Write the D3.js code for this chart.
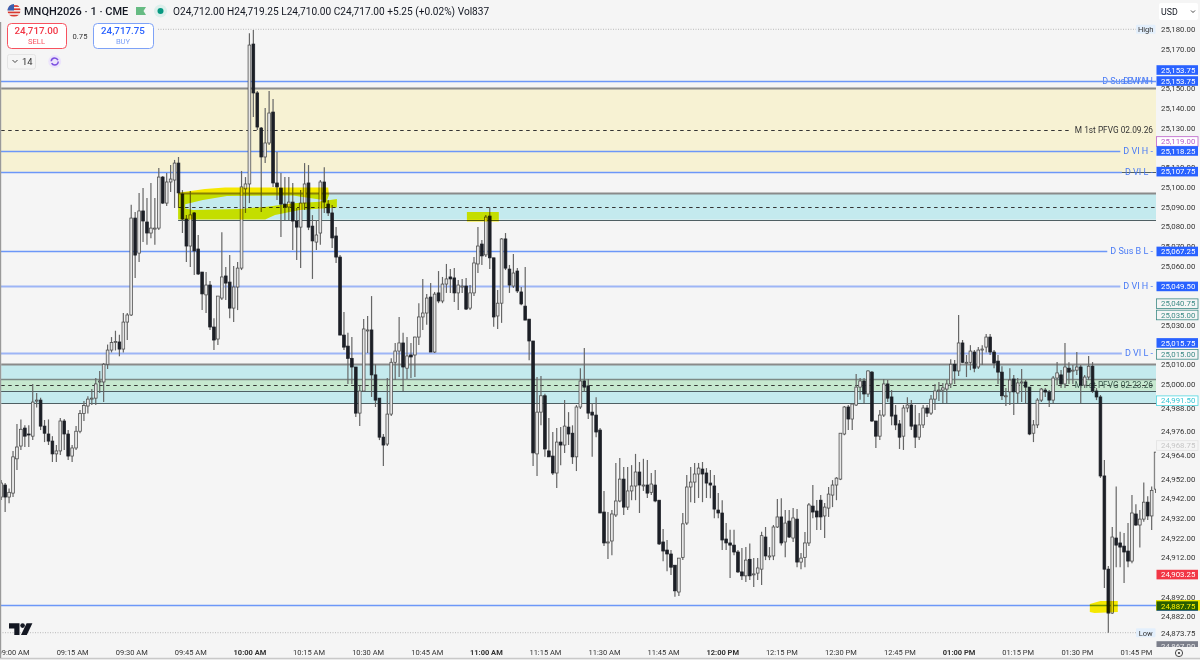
<!DOCTYPE html>
<html>
<head>
<meta charset="utf-8">
<script src="https://cdn.jsdelivr.net/npm/d3@7/dist/d3.min.js"></script>
<style>
html, body { margin: 0; padding: 0; background: #f5f5f5; overflow: hidden; }
svg { display: block; font-family: Roboto, "Liberation Sans", sans-serif; }
</style>
</head>
<body>
<svg width="1200" height="660"></svg>
<script>
// one minute bars, first bar is 08:57
let firstMinute = -3

let opens = [
24942.6,24948.7,24942.6,24944.6,24962,24968.5,24977.6,24974.6,24973.5,24991.8,
24991.8,24978.6,24974.6,24971,24964.5,24966,24981.2,24974.6,24963.4,24967.5,
24976,24985,24988.8,24992.8,24992.8,25001,25001,25010,25017.2,25021.3,
25021.3,25017.7,25031.4,25035,25084.2,25066.4,25087.8,25082.2,25076.6,25079,
25079.1,25105,25091.8,25102.5,25103.5,25112.1,25096.4,25083.7,25070,25086.8,
25068.5,25056.8,25045.2,25050.2,25028.9,25022.8,25043.6,25054.8,25051.7,25038.5,
25049.2,25058.8,25099,25101.5,25172.5,25147.7,25129.9,25115.2,25122.3,25138,
25102,25099.4,25091.3,25089.8,25092.3,25082.7,25079.6,25091.8,25102,25080.1,
25072,25076.6,25102.5,25091.3,25086.8,25075.1,25064.4,25024.8,25019.2,25013,
25008.6,24985.2,24996.4,25027.4,25027.4,25004.6,24992.8,24973,24969.5,24984.7,
25011,25016.7,25020.8,25008,25014.7,25014.7,25023.8,25034,25036,25044.1,
25016.2,25046.2,25042.1,25050.7,25054.3,25053.8,25046.2,25049.7,25049.7,25038.5,
25046.2,25060.9,25071,25065.5,25085.2,25064,25034.5,25041,25073.6,25058.3,
25049.7,25057.3,25046.7,25039.5,25032.9,25021.8,24964.5,24985.7,24994,24966,
24963.4,24954.8,24970.5,24969,24978.1,24975,24963,24988.3,25001.5,24999,
24985.7,24984.2,24976.6,24935,24919.3,24920.3,24933.5,24940.6,24951.7,24937.5,
24945.7,24948.2,24955.3,24948.7,24948.7,24945,24948.7,24941,24919.8,24915.7,
24913.7,24908,24894.4,24912,24929.4,24947.7,24950.2,24954.3,24956.8,24954.8,
24949.7,24948.2,24936,24934.5,24921.3,24919.3,24918.2,24914.7,24904.6,24902.6,
24911,24903.6,24904,24906,24922.3,24912.7,24912.7,24927.4,24932.5,24919.8,
24930.4,24921.8,24931.4,24909.6,24912,24919.3,24938,24935.5,24941,24933,
24937,24943.6,24948.7,24951.7,24974.6,24988.3,24982.2,24989.3,24998.4,25001.5,
24994.9,25006,24981.2,24973.5,24984.2,25000,24993.4,24984.2,24979.7,24973.5,
24987.8,24989.3,24979.2,24973,24979.2,24987.8,24985.2,24992.3,24996.9,24996.9,
24997.4,25000,25010,25006.6,25020.8,25011,25011,25016.2,25008.6,25017.7,
25018.7,25023.8,25016.2,25011.6,25006,24994,24996,25002.5,24995.4,25001,
25001,24998.4,24975,24979.2,24991.8,24996.9,24995.9,24991.8,25003,25004.6,
25000,25008,25007,25007,25008.6,24999.4,25003.5,25009,24996.4,24993.4,
24953.3,24906,24883.7,24921.8,24919.3,24917.7,24915.2,24910.1,24934,24928.4,
24931.4,24940,24933,24946.6
]
let highs = [
24951.2,24949.7,24947,24966,24979.7,24982,24979,24979,25000,24995.4,
24993,24981.7,24982,24973.5,24969,24982.7,24982.2,24976.6,24969,24978.6,
24986.8,24991.3,24993.8,24997.4,25003,25006.6,25010.6,25020,25023.8,25027,
25025,25036,25036,25091,25087.3,25096.9,25099.4,25094.4,25102,25094.4,
25109.6,25105.5,25107.1,25111.1,25113.7,25115.2,25098.4,25085.8,25097.9,25087.3,
25075.6,25056.8,25056.8,25052.3,25033.4,25044.6,25077,25059.3,25065.4,25059.9,
25061.9,25108.1,25105,25178,25179.6,25148.7,25130.4,25140,25148.7,25144.6,
25117.7,25107.1,25105,25105,25102,25089.3,25098.4,25112.1,25111.1,25085.7,
25083.2,25103.5,25110,25093.4,25090.8,25079.6,25065.4,25036.5,25026,25023.8,
25008.6,24999.4,25033,25034.5,25044.6,25010,24992.8,24974.6,25003,25013,
25020.8,25034,25026,25023.8,25020.8,25024,25041,25053.3,25045.6,25051.2,
25046.7,25057.3,25054.3,25060.9,25058.3,25058.8,25052.8,25053.3,25053.8,25050.2,
25064.4,25079.6,25073.1,25085.7,25089.8,25064,25047.7,25074,25076.6,25060.4,
25066,25058.8,25049.2,25059.3,25032.9,25021.8,25003.5,25004,24995,24982.7,
24975.6,24977.6,24978.1,24991.8,24985.7,24979,24989.3,25008,25018.2,25002.5,
24990.3,24993.3,24977.6,24945.7,24935,24936,24959.9,24962.4,24957.8,24957.8,
24958.8,24964.5,24960.4,24962,24961.4,24954.8,24956.3,24941,24926.4,24920.8,
24915.7,24908,24911.6,24934.5,24953.8,24957.8,24959.9,24959.9,24960.4,24957.3,
24956.3,24953.8,24944.6,24941,24929.4,24926,24926,24915.7,24916.7,24917.2,
24919,24911.6,24911.6,24925,24927.4,24917.2,24928.4,24941.6,24942,24936,
24936,24937,24936.5,24914.2,24924.9,24939.6,24948.7,24941.1,24943.6,24939.6,
24947.7,24951.2,24952.7,24975,24988.8,24989.3,24990.3,25005,25003,25003,
25007,25006.6,24981.2,24986.8,25002.5,25002,24996.9,24989.3,24981.7,24989.3,
24993.3,24991.8,24989.3,24985.2,24989.3,24989.3,24994.4,25000,25001,25000.5,
25002,25012.6,25012.1,25035,25022.3,25014.7,25019.7,25017.2,25018.7,25019.7,
25025.3,25025.3,25017.2,25014.7,25009,24997.9,25008,25004.6,25003,25007.6,
25002,24998.4,24981.7,24992.8,24997.9,24997.9,24996.9,25004,25011.1,25007.1,
25020.8,25011,25009.6,25016.2,25009.6,25004.6,25014.2,25011.1,24997.9,24994.4,
24961.4,24907.6,24927.4,24948,24925,24924.3,24929.4,24943.6,24939,24936,
24950,24943,24948,24965.4
]
let lows = [
24941.1,24935,24939.5,24942.6,24956.3,24966.5,24968,24968,24971.5,24988,
24976.6,24970.5,24969,24960.4,24960.4,24963.9,24966.5,24961.4,24960.4,24966.5,
24975,24981.2,24985,24989.3,24989.3,24995.4,24990.8,25007.6,25016,25017,
25014,25016,25022.3,25034.5,25053.8,25061.9,25072,25070.6,25074,25070.6,
25078.1,25091.3,25090.3,25097.4,25089.3,25089.3,25076.6,25061.9,25059.4,25055.3,
25055.3,25037.5,25036,25027.4,25017.2,25019.8,25042.6,25042.6,25033.4,25031.4,
25037.5,25057.8,25086.8,25091.8,25135.5,25128.9,25087.3,25112.1,25121.3,25100,
25093.4,25074.6,25083.2,25083.2,25068,25062.9,25058.8,25088.3,25078.1,25053.3,
25068,25070.6,25086.8,25085.2,25069,25061.4,25024.8,25017.2,25000,25000,
24983.2,24978.6,24996,25015.7,24993.4,24988.3,24971.5,24958.3,24968.5,24983.7,
25002,25003.5,24996.4,25002.5,25003,25003.5,25019.8,25027.4,25030,25016.2,
25015.7,25041,25041,25046.2,25046.2,25041.6,25037.5,25046.2,25037.5,25037.5,
25044.6,25056.3,25060.4,25064.4,25058.3,25029,25027.9,25031,25057.8,25046.2,
25048.7,25046.2,25040,25032.4,25012,24958.3,24953.3,24979,24963,24963,
24953.8,24947.2,24958.8,24965,24969,24959.4,24955.8,24987.3,24995.9,24982.2,
24963,24973,24934.5,24917.7,24911.1,24913,24932.5,24940,24933.5,24936,
24941,24941,24934.5,24945.7,24942.1,24943.6,24940,24918.2,24910,24905,
24903,24892,24892.4,24910.6,24928.4,24940,24939.6,24942.1,24940,24942.1,
24942,24931.9,24931.9,24915.7,24915.7,24901.5,24913,24904,24900.5,24899.5,
24900.5,24897,24900.5,24897.9,24910.6,24910.6,24910.6,24926.9,24918,24912,
24921.8,24919.8,24907,24906,24907,24917.7,24931.9,24925.9,24925.9,24921.8,
24932.5,24937.5,24941,24951.2,24974,24976.6,24976.6,24988.8,24992,24990.3,
24993.4,24980.7,24967.5,24971.5,24983.2,24990.8,24979,24976.6,24967,24966.5,
24985.7,24976.6,24967.5,24971.5,24977.6,24983.2,24984.2,24986.8,24991.3,24990.3,
24990.3,24998,25000,25004,25010.6,25003.5,25007,25006,25007.6,25009.6,
25016,25014.7,25008,25000,24991.8,24988.8,24989.3,24984.2,24990.3,24990.8,
24990.3,24974,24970.5,24977.6,24990.8,24993.4,24988.3,24990.3,24999.4,24998,
24998,25000,25000,25004.6,24990.3,24997.9,25002,24995.4,24991.8,24952.3,
24896.4,24873.75,24883.2,24907,24907,24899,24907,24909,24927.9,24917,
24930,24930.9,24925.9,24944.6
]
let closes = [
24949.7,24942.6,24945,24963,24968,24977,24973.5,24974.5,24990.8,24991.8,
24978.6,24975,24971,24964.5,24966,24981.2,24974.6,24963.4,24967.5,24976,
24985,24989,24992.3,24992.8,25000,25001.5,25010,25017.2,25021,25021.5,
25017.7,25031.4,25035,25084.2,25065.4,25087.8,25082.7,25076.6,25079.1,25079.1,
25105,25091.8,25102.5,25104,25112.1,25097,25083.7,25070,25085.8,25067.5,
25055.8,25045.7,25050.2,25028.9,25022.3,25044.6,25054.3,25051.2,25038.5,25049.2,
25058.8,25100,25101.5,25172,25147.7,25130.4,25115.2,25122.3,25137.5,25102,
25100,25091.3,25089.8,25092.3,25082.7,25079.6,25091.8,25101.5,25079.6,25072.6,
25075.6,25102.5,25092.3,25086.8,25074.1,25064.4,25024.8,25018.7,25013,25008.6,
24985.2,24996.4,25027.9,25027.4,25004.6,24991.8,24973,24969,24984.7,25011,
25016.7,25020.8,25008.6,25014.2,25013.7,25023.8,25034,25036,25043.6,25016.2,
25045.6,25042.1,25050.7,25053.3,25053.3,25046.2,25050.2,25049.7,25038,25046.2,
25061.4,25070,25065,25084.7,25064,25034,25041,25073.6,25058.8,25050.2,
25056.3,25047.2,25040.6,25032.4,25021.8,24965,24985.7,24994,24967,24963,
24954.8,24970.5,24969,24978.6,24974.6,24963,24988.3,25001.5,24998.4,24985.2,
24984.2,24975.6,24934.5,24919.3,24919.8,24934,24940.6,24951.7,24937.5,24945.7,
24948.2,24955.3,24948.7,24948.7,24944.6,24949.2,24940.6,24918.8,24915.2,24913.7,
24907,24895,24911.6,24929,24947.7,24950.2,24954.3,24957.3,24954.3,24949.7,
24948.7,24936.5,24934.5,24920.8,24919.3,24918.2,24914.7,24904.6,24902.6,24910.6,
24902.6,24903.6,24906.6,24923,24912.7,24912.7,24927.4,24932.5,24919.3,24929.4,
24922.3,24932,24909.6,24911.6,24919.3,24938.6,24935,24932.5,24932.5,24937.5,
24944.1,24948.7,24952.2,24975,24988.3,24982.2,24989.8,24998.4,25001.5,24994.9,
25006.6,24981.2,24973.5,24984.2,25000,24992.8,24983.7,24979.2,24973,24987.8,
24989.3,24978.6,24973,24979.2,24987.8,24985.2,24992.3,24996.4,24996.9,24998,
25000,25010,25006.6,25020.8,25011,25011,25016.7,25008,25017.2,25017.7,
25023.8,25016.2,25010.6,25006,24994,24994,25002,24996,25000.5,25001,
24998.4,24974.6,24979.2,24991.8,24997.4,24995.9,24991.8,25003,25005.6,25000,
25008.6,25006,25007,25008.6,24999.4,25003.5,25009,24996.4,24993.4,24953.3,
24906,24883.7,24922.3,24918.2,24917.2,24914.7,24910.1,24934.5,24928.4,24931.4,
24940,24933,24946,24965.4
]

let priceTicks = [25180,25170,25150,25140,25130,25110,25100,25090,25080,25070,25060,25030,25010,25000,24988,24976,24964,24952,24942,24932,24922,24912,24892,24882]
let timeTicks = [0,15,30,45,60,75,90,105,120,135,150,165,180,195,210,225,240,255,270,285]
let timeLabels = ['09:00 AM','09:15 AM','09:30 AM','09:45 AM','10:00 AM','10:15 AM','10:30 AM','10:45 AM','11:00 AM','11:15 AM','11:30 AM','11:45 AM','12:00 PM','12:15 PM','12:30 PM','12:45 PM','01:00 PM','01:15 PM','01:30 PM','01:45 PM']
let boldTimes = ['10:00 AM','11:00 AM','12:00 PM','01:00 PM']

// horizontal levels and their labels on the right
let levelPrices = [25153.75,25118.25,25067.25,25049.5,25015.75,25107.75]
let levelNames = ['D Sus B VAH','D VI H -','D Sus B L -','D VI H -','D VI L -','D VI L -']
let targetPrice = 24887.75

// zones: premium box, upper fvg, lower fvg
let zoneTops = [25150,25096.9,25009.9]
let zoneBottoms = [25107.75,25083.4,24990.3]
let zoneStarts = [-3,41.9,-3]
let zoneMids = [25129,25090,24999.7]
let bandTop = 25002.5
let bandBottom = 24996.6

// scale tags
let tagPrices = [25153.75,25153.75,25119,25118.25,25107.75,25067.25,25049.5,25040.75,25035,25015.75,25015,24991.5,24968.75,24903.25,24887.75,24873.75,24867]
let tagKinds = ['blue','blue','purple','blue','blue','blue','blue','teal','teal','blue','teal','cyan','faded','red','blue','plain','gray']
let tagNudge = [-11,0,-8,0,0,0,0,0,0,-10,0,0,0,0,1,0,0]

// highlighter strokes, [minute, price]
let brushOuter = [[41.9,25097.1],[48.7,25099],[53.8,25099.7],[80,25099.7],[80.2,25095.9],[79.7,25093.1],[82.2,25093.9],[82.2,25089.5],[72.8,25088.3],[66.5,25085.7],[64,25083.5],[41.9,25083.5]]
let brushHole = [[43.7,25089.1],[43.7,25091.2],[48.2,25093.4],[54.3,25095.4],[71,25095.7],[78.7,25093.4],[77.9,25092.5],[71,25091.7],[64.5,25090],[57.6,25088.8],[45.7,25088.3]]
let brushMid = [[115.2,25087.3],[123.3,25087.3],[123.3,25082.4],[115.2,25082.4]]
let brushLow = [[273.3,24888.3],[276,24889.8],[280.4,24889.8],[280.4,24884.2],[274.5,24883.7],[273.3,24884.2]]

let plotRight = 1156
let svg = d3.select('svg')

let xScale = d3.scaleLinear().domain([-3,290]).range([1.2,1155.6])
let yScale = d3.scaleLinear().domain([24873.75,25180]).range([632.7,29.3])
let snap = (price) => Math.round(yScale(price)) + 0.5

let defs = svg.append('defs')
defs.append('clipPath').attr('id','plot').append('rect')
    .attr('x',0).attr('y',22).attr('width',plotRight).attr('height',618)
defs.append('clipPath').attr('id','flag').append('circle')
    .attr('cx',14).attr('cy',10.5).attr('r',6.5)
defs.append('clipPath').attr('id','axisclip').append('rect')
    .attr('x',1156).attr('y',22).attr('width',44).attr('height',625)

svg.append('rect').attr('width',1200).attr('height',660).attr('fill','#f5f5f5')

let plot = svg.append('g').attr('clip-path','url(#plot)')

let drawZones = () => {
    zoneTops.forEach((top, i) => {
        let x0 = xScale(zoneStarts[i])
        plot.append('rect')
            .attr('x',x0).attr('y',yScale(top))
            .attr('width',plotRight-x0)
            .attr('height',yScale(zoneBottoms[i])-yScale(top))
            .attr('fill', i == 0 ? '#f7f2d3' : '#c4eaee')
        plot.append('line')
            .attr('x1',x0).attr('x2',plotRight)
            .attr('y1',snap(top)).attr('y2',snap(top))
            .attr('stroke','#8a8a8a').attr('stroke-width',1.8)
        plot.append('line')
            .attr('x1',x0).attr('x2',plotRight)
            .attr('y1',snap(zoneBottoms[i])).attr('y2',snap(zoneBottoms[i]))
            .attr('stroke','#4f5f63').attr('stroke-width',1.1)
    })

    plot.append('rect')
        .attr('x',0).attr('y',yScale(bandTop))
        .attr('width',plotRight).attr('height',yScale(bandBottom)-yScale(bandTop))
        .attr('fill','#c6e8cf')
    plot.append('line').attr('x1',0).attr('x2',plotRight)
        .attr('y1',snap(bandTop)).attr('y2',snap(bandTop))
        .attr('stroke','#7d8a86').attr('stroke-width',1.5)
    plot.append('line').attr('x1',0).attr('x2',plotRight)
        .attr('y1',snap(bandBottom)).attr('y2',snap(bandBottom))
        .attr('stroke','#4f5f63').attr('stroke-width',1)

    // dashed midlines
    let dashEnds = [1072,plotRight,plotRight]
    zoneMids.forEach((mid, i) => {
        plot.append('line')
            .attr('x1',xScale(zoneStarts[i])).attr('x2',dashEnds[i])
            .attr('y1',snap(mid)).attr('y2',snap(mid))
            .attr('stroke','#333').attr('stroke-width',1)
            .attr('stroke-dasharray','3.5 3.5')
    })
    plot.append('text').attr('x',1153).attr('y',yScale(zoneMids[0])+3)
        .attr('text-anchor','end').attr('font-size',8.3).attr('fill','#333')
        .text('M 1st PFVG 02.09.26')
    plot.append('text').attr('x',1153).attr('y',yScale(zoneMids[2])+3)
        .attr('text-anchor','end').attr('font-size',8.3).attr('fill','#3c5a4e')
        .text('M 1st PFVG 02.23.26')
}

let drawLevels = () => {
    levelPrices.forEach((price, i) => {
        let thick = price == 25049.5 || price == 25015.75
        let label = plot.append('text')
            .attr('x',1153).attr('y',yScale(price)+3)
            .attr('text-anchor','end').attr('font-size',9)
            .attr('fill','#4a7bf5').text(levelNames[i])
        let textStart = 1153 - label.node().getComputedTextLength()
        plot.append('line')
            .attr('x1',0).attr('x2',i == 0 ? plotRight : textStart-3)
            .attr('y1',snap(price)).attr('y2',snap(price))
            .attr('stroke', thick ? '#9db5f6' : '#6c97f8')
            .attr('stroke-width', thick ? 1.8 : 1.4)
    })
    // second label sitting on the first one
    plot.append('text').attr('x',1153).attr('y',yScale(levelPrices[0])+3)
        .attr('text-anchor','end').attr('font-size',9)
        .attr('fill','#4a7bf5').text('D VI H -')
    plot.append('line').attr('x1',0).attr('x2',plotRight)
        .attr('y1',snap(targetPrice)).attr('y2',snap(targetPrice))
        .attr('stroke','#6c97f8').attr('stroke-width',1.4)

    // session high and low dotted lines
    plot.append('line').attr('x1',158).attr('x2',1136)
        .attr('y1',yScale(25180)).attr('y2',yScale(25180))
        .attr('stroke','#aaa').attr('stroke-width',0.8).attr('stroke-dasharray','1 1.5')
    plot.append('line').attr('x1',0).attr('x2',1136)
        .attr('y1',yScale(24873.75)).attr('y2',yScale(24873.75))
        .attr('stroke','#aaa').attr('stroke-width',0.8).attr('stroke-dasharray','1 1.5')
}

let drawCandles = () => {
    let minutes = d3.range(opens.length)
    let g = plot.append('g')

    g.selectAll('.wick').data(minutes).enter().append('line')
        .attr('class','wick')
        .attr('x1',(i) => xScale(firstMinute+i))
        .attr('x2',(i) => xScale(firstMinute+i))
        .attr('y1',(i) => yScale(highs[i]))
        .attr('y2',(i) => yScale(lows[i]))
        .attr('stroke','#666').attr('stroke-width',1.2)

    g.selectAll('.body').data(minutes).enter().append('rect')
        .attr('class','body')
        .attr('x',(i) => xScale(firstMinute+i)-1.35)
        .attr('width',2.7)
        .attr('y',(i) => yScale(Math.max(opens[i],closes[i])))
        .attr('height',(i) => Math.max(1,Math.abs(yScale(opens[i])-yScale(closes[i]))))
        .attr('fill',(i) => closes[i] >= opens[i] ? '#e6e6e6' : '#1c1f26')
        .attr('stroke',(i) => closes[i] >= opens[i] ? '#4a4a4a' : '#1c1f26')
        .attr('stroke-width',0.75)
}

let drawBrushes = () => {
    let toPath = (pts) => 'M' + pts.map((p) => xScale(p[0]) + ',' + yScale(p[1])).join('L') + 'Z'
    let g = svg.append('g').style('mix-blend-mode','multiply')
    g.append('path')
        .attr('d',toPath(brushOuter) + toPath(brushHole))
        .attr('fill-rule','evenodd').attr('fill','#fff200')
    g.append('path').attr('d',toPath(brushMid)).attr('fill','#fff200')
    g.append('path').attr('d',toPath(brushLow)).attr('fill','#fff200')
}

let drawAxes = () => {
    let yAxis = d3.axisRight(yScale)
        .tickValues(priceTicks)
        .tickSize(0)
        .tickFormat(d3.format(',.2f'))
    let gy = svg.append('g').attr('transform','translate(1161,0)').call(yAxis)
    gy.select('.domain').remove()
    gy.selectAll('text').attr('x',0).attr('font-size',7.8).attr('font-family','Roboto').attr('fill','#333')

    let xAxis = d3.axisBottom(xScale)
        .tickValues(timeTicks)
        .tickSize(0)
        .tickFormat((d, i) => timeLabels[i])
    let gx = svg.append('g').attr('transform','translate(0,647)').call(xAxis)
    gx.select('.domain').remove()
    gx.selectAll('text')
        .attr('y',3).attr('font-size',7.5).attr('font-family','Roboto')
        .attr('fill','#333')
        .attr('font-weight',(d, i) => boldTimes.includes(timeLabels[i]) ? 700 : 400)

    svg.append('line').attr('x1',0).attr('x2',1200).attr('y1',658.5).attr('y2',658.5)
        .attr('stroke','#c9c9c9').attr('stroke-width',1.5)
    svg.append('line').attr('x1',0.6).attr('x2',0.6).attr('y1',22).attr('y2',658)
        .attr('stroke','#9a9a9a').attr('stroke-width',1.2)
}

let drawTags = () => {
    let g = svg.append('g').attr('clip-path','url(#axisclip)')
    let fills = {blue:'#2962ff',red:'#f23645',gray:'#7b7e8a',purple:'#ffffff',teal:'#f5f5f5',cyan:'#ffffff',faded:'#f5f5f5'}
    let strokes = {purple:'#bb5fc9',teal:'#3d8b86',cyan:'#4fd6e0',faded:'#e2e2e2'}
    let inks = {blue:'#ffffff',red:'#ffffff',gray:'#e9e9e9',purple:'#bb5fc9',teal:'#3d8b86',cyan:'#35c6d4',faded:'#c6c6c6',plain:'#333'}
    tagPrices.forEach((price, i) => {
        let kind = tagKinds[i]
        let cy = yScale(price) + tagNudge[i]
        if (kind != 'plain') {
            g.append('rect')
                .attr('x',1156.5).attr('y',cy-4.8)
                .attr('width',41.5).attr('height',9.6)
                .attr('fill',fills[kind])
                .attr('stroke',strokes[kind] || 'none')
                .attr('stroke-width',0.8)
        }
        g.append('text')
            .attr('x',1161).attr('y',cy+2.8)
            .attr('font-size',7.8).attr('fill',inks[kind])
            .text(d3.format(',.2f')(price))
    })

    // highlighter over the target tag turns it dark green
    svg.append('rect').attr('x',1156).attr('y',600).attr('width',44).attr('height',10.5)
        .attr('fill','#fff200').style('mix-blend-mode','multiply')

    let pills = [['High',25180],['Low',24873.75]]
    pills.forEach((p) => {
        svg.append('rect').attr('x',1136).attr('y',yScale(p[1])-4.5)
            .attr('width',19.5).attr('height',9).attr('rx',1).attr('fill','#e3effc')
        svg.append('text').attr('x',1145.7).attr('y',yScale(p[1])+2.8)
            .attr('text-anchor','middle').attr('font-size',7.5).attr('fill','#333').text(p[0])
    })
}

let drawHeader = () => {
    // flag
    let flag = svg.append('g').attr('clip-path','url(#flag)')
    flag.append('rect').attr('x',7).attr('y',4).attr('width',14).attr('height',14).attr('fill','#f5f5f5')
    d3.range(4).forEach((i) => {
        flag.append('rect').attr('x',7).attr('y',5.2+i*3.2).attr('width',14).attr('height',1.7).attr('fill','#d8392f')
    })
    flag.append('rect').attr('x',7).attr('y',4).attr('width',7).attr('height',6.5).attr('fill','#3b5fb0')

    svg.append('text').attr('x',24).attr('y',15).attr('font-size',11).attr('font-weight',500)
        .attr('fill','#131722').text('MNQH2026 · 1 · CME')
    svg.append('path').attr('d','M136 7h10l-2.5 4 2.5 4h-10z').attr('fill','#66bb83')
    svg.append('circle').attr('cx',160.5).attr('cy',11).attr('r',6.5).attr('fill','#dcefeb')
    svg.append('circle').attr('cx',160.5).attr('cy',11).attr('r',3).attr('fill','#089981')
    svg.append('text').attr('x',173).attr('y',14.6).attr('font-size',10.15)
        .attr('fill','#131722').text('O24,712.00 H24,719.25 L24,710.00 C24,717.00 +5.25 (+0.02%) Vol837')

    // trade buttons
    let buttons = [[7,59,'#f7525f','#f23645','24,717.00','SELL'],[93,60,'#7ea2f7','#2962ff','24,717.75','BUY']]
    buttons.forEach((b) => {
        svg.append('rect').attr('x',b[0]+0.5).attr('y',23.5).attr('width',b[1]).attr('height',25).attr('rx',4)
            .attr('fill','#fff').attr('stroke',b[2]).attr('stroke-width',1)
        svg.append('text').attr('x',b[0]+b[1]/2).attr('y',34).attr('text-anchor','middle')
            .attr('font-size',9.8).attr('font-weight',500).attr('fill',b[3]).text(b[4])
        svg.append('text').attr('x',b[0]+b[1]/2).attr('y',43.6).attr('text-anchor','middle')
            .attr('font-size',7.6).attr('fill',b[2]).text(b[5])
    })
    svg.append('text').attr('x',80).attr('y',38.7).attr('text-anchor','middle')
        .attr('font-size',7.6).attr('fill','#333').text('0.75')

    // qty box + sync icon
    svg.append('rect').attr('x',7.5).attr('y',54.5).attr('width',28).attr('height',14.5).attr('rx',2)
        .attr('fill','#f5f5f5').attr('stroke','#e0e0e0').attr('stroke-width',0.8)
    svg.append('path').attr('d','M12.5 60l2.5 2.5 2.5-2.5').attr('fill','none').attr('stroke','#333').attr('stroke-width',0.9)
    svg.append('text').attr('x',22).attr('y',65).attr('font-size',9.4).attr('fill','#333').text('14')
    svg.append('circle').attr('cx',54.7).attr('cy',61.5).attr('r',6.5).attr('fill','#ece4fb')
    svg.append('circle').attr('cx',54.7).attr('cy',61.5).attr('r',3.5).attr('fill','none')
        .attr('stroke','#7c4fe0').attr('stroke-width',1.5).attr('stroke-dasharray','9 2')

    // currency box
    svg.append('rect').attr('x',1159).attr('y',3).attr('width',39).attr('height',17).attr('rx',2).attr('fill','#fff')
    svg.append('text').attr('x',1161).attr('y',14.5).attr('font-size',8.8).attr('fill','#131722').text('USD')
    svg.append('path').attr('d','M1191 10.5l2 2 2-2').attr('fill','none').attr('stroke','#333').attr('stroke-width',0.9)

    // logo
    let logo = svg.append('g').attr('fill','#131722')
    logo.append('path').attr('d','M9 623.3h10.5v11.7h-5.2v-6.5h-5.3z')
    logo.append('circle').attr('cx',22.6).attr('cy',625.6).attr('r',2.3)
    logo.append('path').attr('d','M26.6 623.3h5.8l-5.6 11.7h-5.8z')

    // settings gear
    svg.append('circle').attr('cx',1179).attr('cy',653).attr('r',3.6).attr('fill','none')
        .attr('stroke','#333').attr('stroke-width',0.9)
    svg.append('circle').attr('cx',1179).attr('cy',653).attr('r',1.1).attr('fill','#333')
}

drawZones()
drawLevels()
drawCandles()
drawBrushes()
drawAxes()
drawTags()
drawHeader()
</script>
</body>
</html>
